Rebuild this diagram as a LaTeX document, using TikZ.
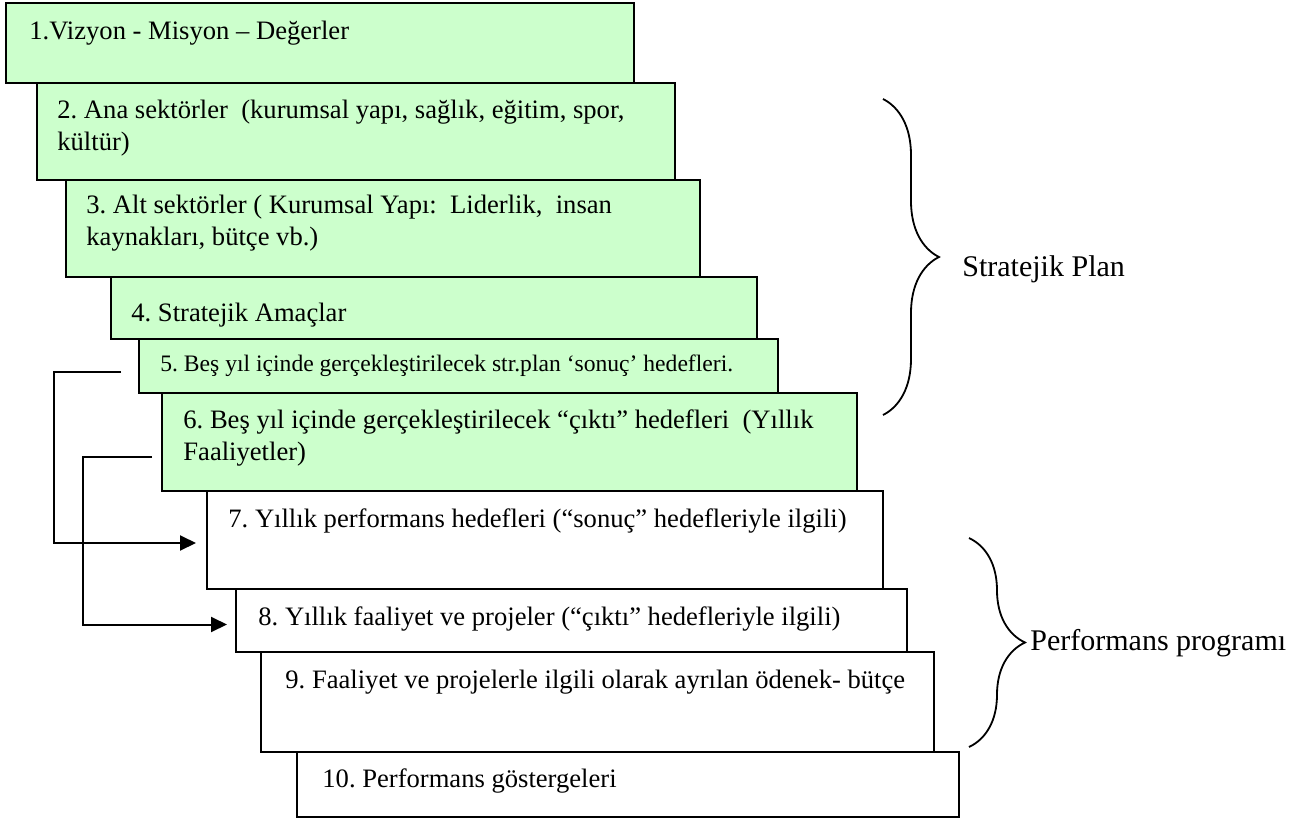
\documentclass[tikz,border=0pt]{standalone}
\usepackage{fontspec}
\setmainfont{Liberation Serif}
\usetikzlibrary{calc}
\usetikzlibrary{arrows.meta}
\usetikzlibrary{decorations.pathreplacing}
\definecolor{boxgreen}{RGB}{204,255,204}
\frenchspacing
\tikzset{
  stagebox/.style={draw=black, line width=1pt, rectangle, anchor=north west, inner sep=0pt, outer sep=0pt},
  greenbox/.style={stagebox, fill=boxgreen},
  whitebox/.style={stagebox, fill=white},
  boxtext/.style={anchor=base west, inner sep=0pt, align=left, font=\fontsize{13.3pt}{16pt}\selectfont},
  smalltext/.style={boxtext, font=\fontsize{11.8pt}{14pt}\selectfont},
  sidetext/.style={anchor=base west, inner sep=0pt, font=\fontsize{15pt}{18pt}\selectfont},
  link/.style={line width=1pt, -{Triangle[length=8pt,width=7.5pt]}},
  bracket/.style={line width=0.9pt, decorate, decoration={brace, amplitude=28pt}}
}
\begin{document}
\begin{tikzpicture}[x=0.5pt, y=-0.5pt]
    \useasboundingbox (0,0) rectangle (1298,820);
    % strategic plan steps
    \node[greenbox, minimum width=314pt, minimum height=40pt] (b1) at (6,3) {};
    \node[greenbox, minimum width=319pt, minimum height=48.5pt] (b2) at (37,83) {};
    \node[greenbox, minimum width=317pt, minimum height=48.5pt] (b3) at (66,180) {};
    \node[greenbox, minimum width=323pt, minimum height=31pt] (b4) at (111,277) {};
    \node[greenbox, minimum width=319.5pt, minimum height=27pt] (b5) at (139,339) {};
    \node[greenbox, minimum width=347.5pt, minimum height=49pt] (b6) at (162,393) {};
    % performance programme steps
    \node[whitebox, minimum width=338pt, minimum height=49pt] (b7) at (207,491) {};
    \node[whitebox, minimum width=335.5pt, minimum height=31.5pt] (b8) at (236,589) {};
    \node[whitebox, minimum width=336.5pt, minimum height=50pt] (b9) at (261,652) {};
    \node[whitebox, minimum width=331pt, minimum height=32.5pt] (b10) at (297,752) {};

    % two-line texts are placed by their last line
    \node[boxtext] (t1) at ($(b1.north west)+(23,36)$) {1.Vizyon - Misyon – Değerler};
    \node[boxtext] (t2) at ($(b2.north west)+(20,67)$) {2. Ana sektörler~ (kurumsal yapı, sağlık, eğitim, spor,\\kültür)};
    \node[boxtext] (t3) at ($(b3.north west)+(20,65)$) {3. Alt sektörler ( Kurumsal Yapı:~ Liderlik,~ insan\\kaynakları, bütçe vb.)};
    \node[boxtext] (t4) at ($(b4.north west)+(20,44)$) {4. Stratejik Amaçlar};
    \node[smalltext] (t5) at ($(b5.north west)+(21,32)$) {5. Beş yıl içinde gerçekleştirilecek str.plan ‘sonuç’ hedefleri.};
    \node[boxtext] (t6) at ($(b6.north west)+(21,67)$) {6. Beş yıl içinde gerçekleştirilecek “çıktı” hedefleri~ (Yıllık\\Faaliyetler)};
    \node[boxtext] (t7) at ($(b7.north west)+(21,36)$) {7. Yıllık performans hedefleri (“sonuç” hedefleriyle ilgili)};
    \node[boxtext] (t8) at ($(b8.north west)+(22,36)$) {8. Yıllık faaliyet ve projeler (“çıktı” hedefleriyle ilgili)};
    \node[boxtext] (t9) at ($(b9.north west)+(24,36)$) {9. Faaliyet ve projelerle ilgili olarak ayrılan ödenek- bütçe};
    \node[boxtext] (t10) at ($(b10.north west)+(25,35)$) {10. Performans göstergeleri};

    \coordinate (s5) at ($(b5.west)+(-18,6)$);
    \coordinate (s6) at ($(b6.west)+(-10,15)$);
    \draw[link, shorten >=5.5pt] (s5) -- ++(-67,0) |- ([yshift=-1.5pt]b7.west);
    \draw[link, shorten >=4.5pt] (s6) -- ++(-69,0) |- ([yshift=-2pt]b8.west);

    \draw[bracket] (883,99) -- (883,415);
    \node[sidetext] (sp) at (962,276) {Stratejik Plan};
    \draw[bracket] (969,538) -- (969,747);
    \node[sidetext] (pp) at (1030,650) {Performans programı};
\end{tikzpicture}
\end{document}
